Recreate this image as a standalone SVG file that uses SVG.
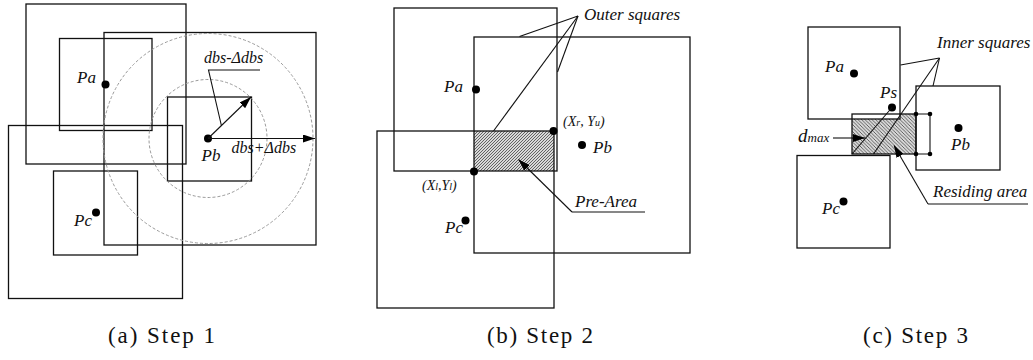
<svg xmlns="http://www.w3.org/2000/svg" width="1033" height="360" viewBox="0 0 1033 360">
<style>
.sq{fill:none;stroke:#111;stroke-width:1.3}
.ln{fill:none;stroke:#111;stroke-width:1.1}
.circ{fill:none;stroke:#9a9a9a;stroke-width:1;stroke-dasharray:3 2}
.dot{fill:#000}
.lbl{font-family:'Liberation Serif','DejaVu Serif',serif;font-style:italic;font-size:17px;fill:#111}
.cap{font-family:'Liberation Serif','DejaVu Serif',serif;font-size:23px;fill:#111}
</style>
<defs>
<marker id="arr" viewBox="0 0 12 8" refX="12" refY="4" markerWidth="12" markerHeight="8" markerUnits="userSpaceOnUse" orient="auto">
<path d="M0,0 L12,4 L0,8 z" fill="#000"/>
</marker>
<pattern id="hatchB" patternUnits="userSpaceOnUse" width="3" height="3">
<rect width="3" height="3" fill="#d8d8d8"/>
<path d="M-1,1 L1,-1 M0,3 L3,0 M2,4 L4,2" stroke="#444" stroke-width="0.8"/>
</pattern>
<pattern id="hatchC" patternUnits="userSpaceOnUse" width="3.5" height="3.5">
<rect width="3.5" height="3.5" fill="#d8d8d8"/>
<path d="M-1,2.5 L1,4.5 M0,0 L3.5,3.5 M2.5,-1 L4.5,1" stroke="#444" stroke-width="0.8"/>
</pattern>
</defs>

<!-- Panel (a) -->
<g id="panel-a">
<g id="a-squares">
<rect class="sq" x="26" y="4" width="160" height="160"/>
<rect class="sq" x="59.5" y="38.5" width="92.5" height="92"/>
<rect class="sq" x="104" y="32.5" width="212" height="212.5"/>
<rect class="sq" x="8.5" y="125.5" width="174" height="173"/>
<rect class="sq" x="53.5" y="171" width="84" height="84"/>
<rect class="sq" x="167.5" y="97" width="84" height="84"/>
</g>
<g id="a-circles">
<circle class="circ" cx="208" cy="138.5" r="59"/>
<circle class="circ" cx="208" cy="138.5" r="105"/>
</g>
<g id="a-Pa"><circle class="dot" cx="105.5" cy="84.5" r="4"/><text class="lbl" x="77" y="83" font-family="Liberation Serif, DejaVu Serif, serif">Pa</text></g>
<g id="a-Pb"><circle class="dot" cx="208" cy="138.5" r="4"/><text class="lbl" x="201.5" y="161" font-family="Liberation Serif, DejaVu Serif, serif">Pb</text></g>
<g id="a-Pc"><circle class="dot" cx="96" cy="212.5" r="4"/><text class="lbl" x="74" y="226" font-family="Liberation Serif, DejaVu Serif, serif">Pc</text></g>
<g id="a-connectors">
<line class="ln" x1="208" y1="138.5" x2="251" y2="97" marker-end="url(#arr)"/>
<line class="ln" x1="208" y1="138.5" x2="315" y2="138.5" marker-end="url(#arr)"/>
<polyline class="ln" points="260,70 208.5,70 221.5,126"/>
</g>
<text class="lbl" x="204" y="63" style="font-size:16px">dbs-Δdbs</text>
<text class="lbl" x="231.5" y="153" style="font-size:16px">dbs+Δdbs</text>
</g>

<!-- Panel (b) -->
<g id="panel-b">
<rect x="474" y="131" width="80" height="40" fill="url(#hatchB)"/>
<g id="b-squares">
<rect class="sq" x="394" y="8" width="163" height="163"/>
<rect class="sq" x="474" y="37" width="216" height="216"/>
<rect class="sq" x="377" y="131" width="177" height="177"/>
</g>
<g id="b-Pa"><circle class="dot" cx="476" cy="89.5" r="4"/><text class="lbl" x="444" y="92">Pa</text></g>
<g id="b-Pb"><circle class="dot" cx="582" cy="145" r="4"/><text class="lbl" x="593" y="153">Pb</text></g>
<g id="b-Pc"><circle class="dot" cx="465.5" cy="220.5" r="4"/><text class="lbl" x="445" y="233">Pc</text></g>
<g id="b-XrYu"><circle class="dot" cx="553.5" cy="131" r="4"/><text class="lbl" x="563" y="126" style="font-size:14px">(X<tspan style="font-size:10px">r</tspan>, Y<tspan style="font-size:10px">u</tspan>)</text></g>
<g id="b-XlYl"><circle class="dot" cx="474" cy="171.5" r="4"/><text class="lbl" x="422" y="190" style="font-size:14px">(X<tspan style="font-size:10px">l</tspan>,Y<tspan style="font-size:10px">l</tspan>)</text></g>
<g id="b-connectors">
<line class="ln" x1="578" y1="16" x2="519.5" y2="36.5"/>
<line class="ln" x1="578" y1="16" x2="493.5" y2="131"/>
<line class="ln" x1="578" y1="16" x2="557.5" y2="72"/>
<line class="ln" x1="645" y1="212" x2="572" y2="212"/>
<line class="ln" x1="572" y1="212" x2="518.5" y2="159.5" marker-end="url(#arr)"/>
</g>
<text class="lbl" x="584" y="20">Outer squares</text>
<text class="lbl" x="575" y="207">Pre-Area</text>
</g>

<!-- Panel (c) -->
<g id="panel-c">
<polygon points="852,119 900,119 900,114 916,114 916,154 852,154" fill="url(#hatchC)"/>
<g id="c-squares">
<rect class="sq" x="808" y="27" width="92" height="92"/>
<rect class="sq" x="916" y="86" width="84" height="84"/>
<rect class="sq" x="797" y="155.5" width="93" height="92.5"/>
<rect class="sq" x="852" y="114" width="64" height="40"/>
</g>
<g id="c-box">
<polyline class="ln" points="916,114 930,114 930,154 916,154"/>
<circle class="dot" cx="916" cy="114" r="2.3"/>
<circle class="dot" cx="930" cy="114" r="2.3"/>
<circle class="dot" cx="916" cy="154" r="2.3"/>
<circle class="dot" cx="930" cy="154" r="2.3"/>
</g>
<g id="c-Pa"><circle class="dot" cx="854" cy="73.5" r="4"/><text class="lbl" x="825" y="72">Pa</text></g>
<g id="c-Ps"><circle class="dot" cx="892" cy="107.5" r="4"/><text class="lbl" x="880" y="98">Ps</text></g>
<g id="c-Pb"><circle class="dot" cx="958.5" cy="128" r="4"/><text class="lbl" x="951" y="150">Pb</text></g>
<g id="c-Pc"><circle class="dot" cx="843.5" cy="201.5" r="4"/><text class="lbl" x="822" y="214">Pc</text></g>
<g id="c-connectors">
<line class="ln" x1="852" y1="154" x2="892" y2="107.5"/>
<line class="ln" x1="833" y1="138" x2="865" y2="138" marker-end="url(#arr)"/>
<line class="ln" x1="939.5" y1="58" x2="900.5" y2="65"/>
<line class="ln" x1="939.5" y1="58" x2="933" y2="86"/>
<line class="ln" x1="939.5" y1="58" x2="873.5" y2="154"/>
<line class="ln" x1="1028" y1="204" x2="928" y2="204"/>
<line class="ln" x1="928" y1="204" x2="894" y2="145.5" marker-end="url(#arr)"/>
</g>
<text class="lbl" x="798" y="142" style="font-size:19px">d<tspan style="font-size:13px">max</tspan></text>
<text class="lbl" x="937" y="48">Inner squares</text>
<text class="lbl" x="933" y="197">Residing area</text>
</g>

<g id="captions">
<text class="cap" x="108" y="343" textLength="107" lengthAdjust="spacing">(a) Step 1</text>
<text class="cap" x="487" y="343" textLength="106" lengthAdjust="spacing">(b) Step 2</text>
<text class="cap" x="863" y="343" textLength="105" lengthAdjust="spacing">(c) Step 3</text>
</g>
</svg>
